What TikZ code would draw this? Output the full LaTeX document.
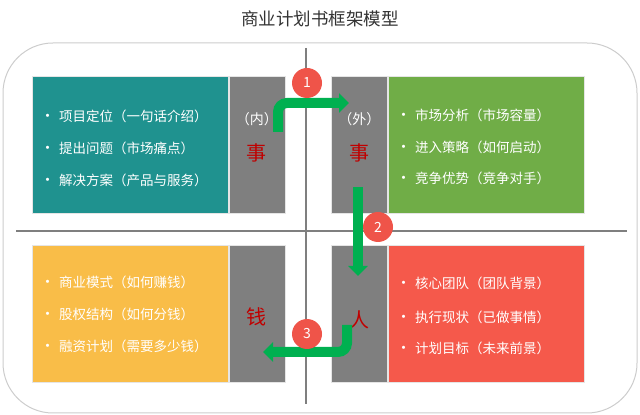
\documentclass[tikz,border=0pt]{standalone}
\usepackage{fontspec}
\setmainfont{Noto Sans CJK SC}
\usetikzlibrary{arrows.meta,positioning}
\definecolor{tealBox}{HTML}{1F928F}
\definecolor{greenBox}{HTML}{70AD47}
\definecolor{yellowBox}{HTML}{F9BD48}
\definecolor{redBox}{HTML}{F5594B}
\definecolor{tagGray}{HTML}{7F7F7F}
\definecolor{darkRed}{HTML}{C00000}
\definecolor{numRed}{HTML}{EF5449}
\definecolor{flowGreen}{HTML}{00B050}
\newcommand{\itembullet}{\makebox[19pt][l]{\fontsize{15}{15}\selectfont •}}
\tikzstyle{frame} = [rectangle, draw=gray!40, line width=1pt, rounded corners=50pt, minimum width=634pt, minimum height=370pt]
\tikzstyle{infobox} = [rectangle, draw=white!80!gray, line width=0.6pt, minimum width=196pt, minimum height=137pt, inner sep=0pt]
\tikzstyle{tagbox} = [rectangle, draw=white!80!gray, line width=0.6pt, fill=tagGray, minimum width=56pt, minimum height=137pt, inner sep=0pt]
\tikzstyle{item} = [anchor=west, text=white, inner sep=0pt, font=\fontsize{13.5}{16}\selectfont]
\tikzstyle{tagtext} = [text=white, font=\fontsize{14}{16}\selectfont]
\tikzstyle{keyword} = [text=darkRed, font=\fontsize{20}{24}\selectfont]
\tikzstyle{stepnum} = [circle, fill=numRed, text=white, minimum size=30pt, inner sep=0pt, font=\fontsize{14}{16}\selectfont]
\tikzstyle{flow} = [draw=flowGreen, line width=10pt, rounded corners=9pt, -{Triangle[width=19pt,length=10pt]}]
\tikzstyle{divider} = [draw=tagGray, line width=1.2pt]

\begin{document}
\begin{tikzpicture}[x=1pt, y=1pt]
    \useasboundingbox (0,0) rectangle (640,415);
    % 标题和外框
    \node[text=black!80, font=\fontsize{17.5}{20}\selectfont] (title) at (320,396) {商业计划书框架模型};
    \node[frame] (frame) at (320,187) {};
    
    % 分隔线
    \coordinate (hl) at (16,184);
    \coordinate (hr) at (627,184);
    \coordinate (vt) at (306,367);
    \coordinate (vb) at (306,11);
    \draw[divider] (hl) -- (hr);
    \draw[divider] (vt) -- (vb);
    
    % 四个象限
    \node[infobox, fill=tealBox, anchor=north west] (neiText) at (32,339) {};
    \node[tagbox, right=0pt of neiText] (nei) {};
    \node[tagbox, anchor=north west] (wai) at (331,339) {};
    \node[infobox, fill=greenBox, right=0pt of wai] (waiText) {};
    \node[infobox, fill=yellowBox, anchor=north west] (qianText) at (32,170) {};
    \node[tagbox, right=0pt of qianText] (qian) {};
    \node[tagbox, anchor=north west] (ren) at (331,170) {};
    \node[infobox, fill=redBox, right=0pt of ren] (renText) {};
    
    % 灰色标签
    \node[tagtext] (neiTag) at ([yshift=26pt]nei.center) {（内）};
    \node[keyword] (neiKey) at ([yshift=-8pt]nei.center) {事};
    \node[tagtext] (waiTag) at ([yshift=26pt]wai.center) {（外）};
    \node[keyword] (waiKey) at ([yshift=-8pt]wai.center) {事};
    \node[keyword] (qianKey) at ([yshift=-3pt]qian.center) {钱};
    \node[keyword] (renKey) at ([yshift=-6pt]ren.center) {人};
    
    % 要点
    \node[item] (nei1) at (40,299) {\itembullet 项目定位（一句话介绍）};
    \node[item] (nei2) at (40,267) {\itembullet 提出问题（市场痛点）};
    \node[item] (nei3) at (40,235) {\itembullet 解决方案（产品与服务）};
    \node[item] (wai1) at (396,300) {\itembullet 市场分析（市场容量）};
    \node[item] (wai2) at (396,268) {\itembullet 进入策略（如何启动）};
    \node[item] (wai3) at (396,237) {\itembullet 竞争优势（竞争对手）};
    \node[item] (qian1) at (40,133) {\itembullet 商业模式（如何赚钱）};
    \node[item] (qian2) at (40,101) {\itembullet 股权结构（如何分钱）};
    \node[item] (qian3) at (40,69) {\itembullet 融资计划（需要多少钱）};
    \node[item] (ren1) at (396,132) {\itembullet 核心团队（团队背景）};
    \node[item] (ren2) at (396,98) {\itembullet 执行现状（已做事情）};
    \node[item] (ren3) at (396,67) {\itembullet 计划目标（未来前景）};
    
    % 流程箭头
    \coordinate (a1s) at (278,283);
    \coordinate (a1e) at (349,312);
    \coordinate (a2s) at (358,228);
    \coordinate (a2e) at (358,139);
    \coordinate (a3s) at (347,90);
    \coordinate (a3e) at (263,63);
    \draw[flow] (a1s) |- (a1e);
    \draw[flow] (a2s) -- (a2e);
    \draw[flow] (a3s) |- (a3e);
    
    % 序号
    \node[stepnum] (s1) at (307,332) {1};
    \node[stepnum] (s2) at (378,188) {2};
    \node[stepnum] (s3) at (307,81) {3};
\end{tikzpicture}
\end{document}
